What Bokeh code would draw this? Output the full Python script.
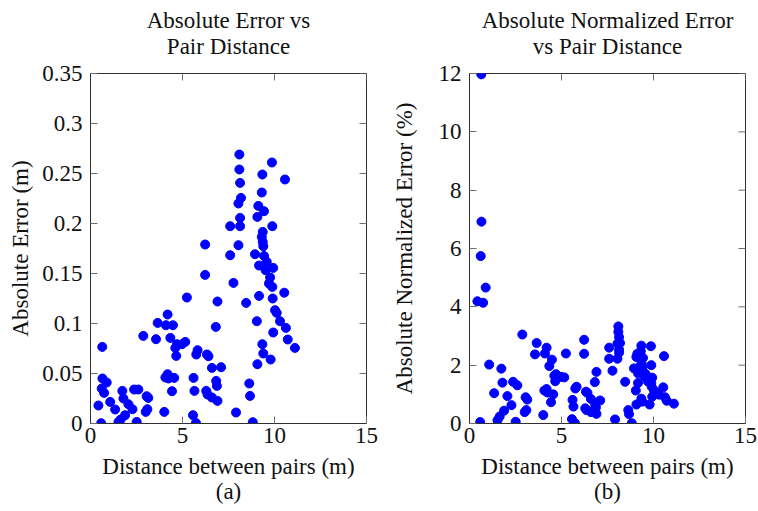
import math
from bokeh.plotting import figure
from bokeh.layouts import row
from bokeh.models import (ColumnDataSource, Title, FixedTicker,
                          Range1d, CustomJSTickFormatter)
from bokeh.embed import file_html
from bokeh.resources import INLINE

# ---- data ----
distance_m = [
    0.64, 2.87, 3.56, 0.65, 0.88, 0.61, 0.74, 1.73, 2.37, 2.60,
    1.79, 3.05, 3.14, 1.07, 2.06, 0.43, 1.34, 2.28, 3.09, 3.00,
    4.01, 1.88, 1.64, 1.52, 2.51, 0.58, 5.24, 6.90, 4.19, 3.65,
    4.10, 4.48, 6.81, 4.34, 5.15, 4.97, 4.70, 4.61, 5.82, 5.75,
    6.33, 6.41, 4.66, 6.60, 7.10, 4.19, 4.07, 4.24, 4.55, 5.60,
    6.83, 6.87, 4.43, 5.65, 6.29, 6.36, 6.60, 6.90, 5.57, 5.73,
    8.09, 9.86, 8.09, 9.34, 10.57, 8.13, 9.31, 8.18, 8.04, 9.12,
    9.43, 9.07, 8.13, 7.59, 8.13, 9.88, 9.36, 9.31, 9.36, 9.39,
    6.23, 8.04, 7.59, 8.94, 9.43, 9.58, 9.16, 9.93, 9.52, 6.23,
    7.77, 9.76, 9.70, 9.88, 10.53, 8.46, 9.16, 9.90, 10.03, 10.12,
    10.30, 9.04, 10.62, 9.93, 10.72, 9.34, 11.11, 9.39, 9.79, 9.07,
    8.63, 8.67, 7.91, 8.82,
]

abs_error_m = [
    0.0766, 0.0876, 0.0843, 0.0450, 0.0410, 0.0350, 0.0306, 0.0326, 0.0340, 0.0340,
    0.0250, 0.0273, 0.0256, 0.0216, 0.0193, 0.0180, 0.0140, 0.0143, 0.0143, 0.0116,
    0.0116, 0.0083, 0.0040, 0.0016, 0.0016, 0.0003, 0.1260, 0.1220, 0.1090, 0.1006,
    0.0983, 0.0983, 0.0966, 0.0856, 0.0816, 0.0793, 0.0793, 0.0756, 0.0733, 0.0690,
    0.0690, 0.0673, 0.0676, 0.0556, 0.0563, 0.0493, 0.0460, 0.0450, 0.0456, 0.0456,
    0.0426, 0.0376, 0.0323, 0.0326, 0.0326, 0.0290, 0.0260, 0.0226, 0.0083, 0.0005,
    0.2690, 0.2610, 0.2540, 0.2490, 0.2440, 0.2406, 0.2310, 0.2256, 0.2200, 0.2176,
    0.2123, 0.2066, 0.2056, 0.1973, 0.1973, 0.1973, 0.1916, 0.1866, 0.1816, 0.1773,
    0.1790, 0.1783, 0.1683, 0.1693, 0.1676, 0.1616, 0.1580, 0.1556, 0.1533, 0.1486,
    0.1406, 0.1460, 0.1400, 0.1366, 0.1308, 0.1206, 0.1276, 0.1250, 0.1133, 0.1106,
    0.1023, 0.1023, 0.0956, 0.0910, 0.0840, 0.0793, 0.0756, 0.0700, 0.0640, 0.0593,
    0.0400, 0.0276, 0.0110, 0.0013,
]

norm_error_pct = [
    11.97, 3.05, 2.37, 6.92, 4.66, 5.74, 4.14, 1.88, 1.43, 1.31,
    1.40, 0.90, 0.82, 2.02, 0.94, 4.19, 1.04, 0.63, 0.46, 0.39,
    0.29, 0.44, 0.24, 0.11, 0.06, 0.05, 2.40, 1.77, 2.60, 2.76,
    2.40, 2.19, 1.42, 1.97, 1.58, 1.60, 1.69, 1.64, 1.26, 1.20,
    1.09, 1.05, 1.45, 0.84, 0.79, 1.18, 1.13, 1.06, 1.00, 0.81,
    0.62, 0.55, 0.73, 0.58, 0.52, 0.46, 0.39, 0.33, 0.15, 0.01,
    3.33, 2.65, 3.14, 2.67, 2.31, 2.96, 2.48, 2.76, 2.74, 2.39,
    2.25, 2.28, 2.53, 2.60, 2.43, 2.00, 2.05, 2.00, 1.94, 1.89,
    2.87, 2.22, 2.22, 1.89, 1.78, 1.69, 1.72, 1.57, 1.61, 2.39,
    1.81, 1.50, 1.44, 1.38, 1.24, 1.43, 1.39, 1.26, 1.13, 1.09,
    0.99, 1.13, 0.90, 0.92, 0.78, 0.85, 0.68, 0.75, 0.65, 0.65,
    0.46, 0.32, 0.14, 0.01,
]

x_ticks = [0, 5, 10, 15]
abs_ticks = [0, 0.05, 0.1, 0.15, 0.2, 0.25, 0.3, 0.35]
norm_ticks = [0, 2, 4, 6, 8, 10, 12]

FONT = "Liberation Serif"
FS = "23px"
TXT = "#111111"
FRAME = "#303030"
TICK = "#707070"


def make_fig(t1, t2, ylabel, sub, y_end, y_ticks, yvals, fmt=None, ylab_standoff=6):
    x_end = x_ticks[-1]
    p = figure(width=379, height=511, output_backend="svg", toolbar_location=None,
               x_range=Range1d(0, x_end), y_range=Range1d(0, y_end),
               x_axis_label="Distance between pairs (m)", y_axis_label=ylabel,
               min_border_left=90, min_border_right=13,
               min_border_top=73, min_border_bottom=88, title=None)
    p.xgrid.visible = False
    p.ygrid.visible = False
    p.outline_line_color = FRAME
    p.outline_line_width = 1
    p.background_fill_color = "white"
    p.border_fill_color = "white"

    p.xaxis.ticker = FixedTicker(ticks=x_ticks)
    p.yaxis.ticker = FixedTicker(ticks=y_ticks)
    if fmt is not None:
        p.yaxis.formatter = fmt

    for ax in p.axis:
        ax.axis_line_color = FRAME
        ax.major_tick_in = 7
        ax.major_tick_out = 0
        ax.major_tick_line_color = TICK
        ax.minor_tick_line_color = None
        ax.major_label_text_font = FONT
        ax.major_label_text_color = TXT
        ax.major_label_text_font_size = FS
        ax.axis_label_text_font = FONT
        ax.axis_label_text_font_style = "normal"
        ax.axis_label_text_color = TXT
        ax.axis_label_text_font_size = FS

    p.below[0].major_label_standoff = 4
    p.below[0].axis_label_standoff = 8
    p.left[0].major_label_standoff = 8
    p.left[0].axis_label_standoff = ylab_standoff

    # mirrored inward ticks on the right and top edges (half of each dash is
    # clipped by the frame, leaving a 7px inward tick)
    p.scatter(x=[x_end] * len(y_ticks), y=y_ticks, marker="dash", size=14,
              line_color=TICK, line_width=1, angle=0)
    p.scatter(x=x_ticks, y=[y_end] * len(x_ticks), marker="dash", size=14,
              line_color=TICK, line_width=1, angle=math.pi / 2)

    p.add_layout(Title(text=t2, align="center", text_font=FONT, text_font_size=FS,
                       text_font_style="normal", text_color=TXT, standoff=29), "above")
    p.add_layout(Title(text=t1, align="center", text_font=FONT, text_font_size=FS,
                       text_font_style="normal", text_color=TXT, standoff=-31), "above")
    p.add_layout(Title(text=sub, align="center", text_font=FONT, text_font_size=FS,
                       text_font_style="normal", text_color=TXT, standoff=-10), "below")

    src = ColumnDataSource(dict(x=distance_m, y=yvals))
    p.scatter("x", "y", source=src, size=9, marker="circle",
              fill_color="#0000FF", line_color="#0000FF")
    return p


p1 = make_fig("Absolute Error vs", "Pair Distance", "Absolute Error (m)", "(a)",
              abs_ticks[-1], abs_ticks, abs_error_m,
              fmt=CustomJSTickFormatter(code="return tick.toString();"))
p2 = make_fig("Absolute Normalized Error", "vs Pair Distance",
              "Absolute Normalized Error (%)", "(b)",
              norm_ticks[-1], norm_ticks, norm_error_pct, ylab_standoff=19)

layout = row(p1, p2)
open("out.html", "w").write(file_html(layout, INLINE))
